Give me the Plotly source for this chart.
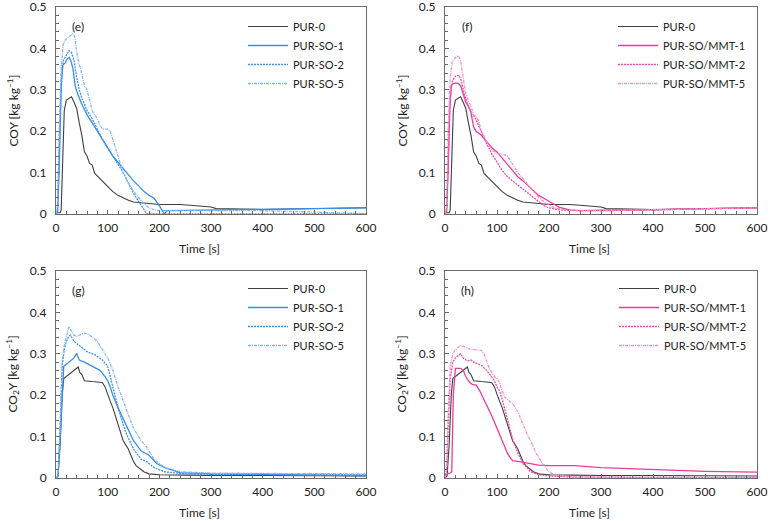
import plotly.graph_objects as go

# ---------------- data ----------------
# COY, PUR-0 (panels e, f)
coy_pur0_t = [0, 8, 10, 13, 16, 20, 25, 30, 35, 40, 45, 50, 55, 60, 65, 70, 75, 85, 100, 110, 120, 130, 140, 150,
              165, 180, 200, 220, 240, 260, 280, 300, 310, 350, 400, 450, 500, 550, 600]
coy_pur0_y = [0.003, 0.003, 0.01, 0.15, 0.25, 0.275, 0.28, 0.283, 0.27, 0.255, 0.22, 0.19, 0.15, 0.14, 0.122, 0.118,
              0.098, 0.085, 0.065, 0.054, 0.045, 0.038, 0.033, 0.029, 0.027, 0.025, 0.023, 0.023, 0.023, 0.021,
              0.019, 0.017, 0.013, 0.012, 0.011, 0.012, 0.013, 0.014, 0.015]

# COY, PUR-SO series (panel e)
coy_so1_t = [0, 3, 6, 10, 13, 18, 22, 26, 30, 33, 37, 42, 50, 60, 70, 80, 90, 100, 110, 120, 130, 140, 150, 160,
             170, 180, 190, 200, 207, 210, 215, 300, 400, 500, 600]
coy_so1_y = [0, 0.005, 0.1, 0.3, 0.36, 0.365, 0.375, 0.378, 0.365, 0.35, 0.31, 0.29, 0.265, 0.24, 0.22, 0.2, 0.18,
             0.16, 0.14, 0.125, 0.11, 0.095, 0.08, 0.068, 0.055, 0.045, 0.038, 0.02, 0.005, 0.0, 0.008, 0.009,
             0.01, 0.013, 0.015]
coy_so2_t = [0, 3, 6, 10, 14, 20, 25, 30, 35, 40, 45, 50, 60, 70, 80, 90, 100, 110, 120, 130, 140, 150, 160, 170,
             175, 180, 600]
coy_so2_y = [0, 0.01, 0.15, 0.32, 0.37, 0.385, 0.395, 0.39, 0.37, 0.33, 0.3, 0.28, 0.25, 0.23, 0.205, 0.18, 0.16,
             0.14, 0.12, 0.1, 0.075, 0.05, 0.03, 0.01, 0.002, 0.0, 0.0]
coy_so5_t = [0, 3, 6, 10, 14, 18, 22, 27, 32, 36, 40, 45, 50, 55, 60, 65, 70, 75, 80, 85, 90, 95, 100, 105, 110,
             115, 120, 130, 140, 150, 160, 170, 180, 190, 200, 210, 400, 600]
coy_so5_y = [0, 0.02, 0.2, 0.35, 0.41, 0.42, 0.425, 0.43, 0.435, 0.43, 0.39, 0.36, 0.34, 0.31, 0.3, 0.275, 0.25,
             0.24, 0.23, 0.215, 0.205, 0.205, 0.205, 0.2, 0.18, 0.16, 0.14, 0.1, 0.075, 0.055, 0.04, 0.025, 0.015,
             0.01, 0.008, 0.008, 0.008, 0.001]

# COY, PUR-SO/MMT series (panel f)
coy_mmt1_t = [0, 3, 6, 9, 12, 16, 20, 25, 30, 35, 40, 45, 50, 55, 60, 70, 80, 90, 100, 110, 120, 130, 140, 150,
              160, 170, 180, 190, 200, 210, 220, 240, 260, 300, 400, 500, 600]
coy_mmt1_y = [0, 0.005, 0.1, 0.25, 0.31, 0.315, 0.316, 0.316, 0.31, 0.29, 0.27, 0.26, 0.245, 0.21, 0.2, 0.19,
              0.175, 0.16, 0.15, 0.135, 0.12, 0.105, 0.09, 0.08, 0.068, 0.055, 0.045, 0.038, 0.03, 0.022, 0.016,
              0.01, 0.008, 0.009, 0.01, 0.013, 0.015]
coy_mmt2_t = [0, 3, 6, 10, 14, 18, 22, 27, 32, 37, 42, 47, 52, 57, 62, 70, 80, 90, 100, 110, 120, 130, 140, 150,
              160, 170, 180, 190, 200, 220, 250, 300, 400, 500, 600]
coy_mmt2_y = [0, 0.01, 0.12, 0.28, 0.32, 0.33, 0.335, 0.335, 0.32, 0.29, 0.27, 0.255, 0.24, 0.235, 0.22, 0.2,
              0.17, 0.145, 0.125, 0.105, 0.09, 0.08, 0.07, 0.06, 0.05, 0.04, 0.03, 0.02, 0.015, 0.01, 0.008,
              0.008, 0.01, 0.013, 0.015]
coy_mmt5_t = [0, 3, 6, 10, 14, 18, 22, 26, 30, 35, 40, 45, 50, 55, 60, 65, 70, 80, 90, 100, 110, 120, 130, 140,
              150, 160, 170, 180, 190, 200, 210, 230, 260, 300, 400, 500, 600]
coy_mmt5_y = [0, 0.02, 0.2, 0.33, 0.37, 0.375, 0.38, 0.382, 0.37, 0.33, 0.29, 0.275, 0.26, 0.24, 0.235, 0.225,
              0.2, 0.175, 0.155, 0.145, 0.145, 0.14, 0.12, 0.1, 0.085, 0.07, 0.055, 0.04, 0.03, 0.022, 0.015,
              0.01, 0.008, 0.008, 0.01, 0.013, 0.015]

# CO2Y, PUR-0 (panels g, h)
co2_pur0_t = [0, 4, 8, 12, 15, 20, 25, 30, 35, 40, 43, 46, 50, 55, 60, 70, 80, 90, 95, 100, 105, 110, 115, 120,
              125, 130, 135, 140, 145, 150, 155, 160, 170, 180, 190, 200, 250, 300, 400, 500, 600]
co2_pur0_y = [0, 0.005, 0.08, 0.2, 0.24, 0.245, 0.25, 0.255, 0.26, 0.265, 0.268, 0.255, 0.25, 0.235, 0.234,
              0.233, 0.232, 0.23, 0.22, 0.2, 0.185, 0.17, 0.15, 0.13, 0.11, 0.09, 0.08, 0.07, 0.055, 0.04, 0.03,
              0.025, 0.015, 0.01, 0.009, 0.008, 0.007, 0.006, 0.006, 0.005, 0.005]

# CO2Y, PUR-SO series (panel g)
co2_so1_t = [0, 4, 8, 12, 15, 20, 25, 30, 35, 40, 45, 55, 70, 85, 95, 100, 105, 110, 120, 135, 150, 165, 180,
             195, 210, 240, 300, 400, 500, 600]
co2_so1_y = [0, 0.005, 0.1, 0.22, 0.27, 0.275, 0.28, 0.285, 0.29, 0.301, 0.285, 0.28, 0.27, 0.26, 0.245, 0.235,
             0.22, 0.2, 0.17, 0.13, 0.09, 0.065, 0.055, 0.035, 0.025, 0.013, 0.01, 0.009, 0.007, 0.005]
co2_so2_t = [0, 4, 8, 12, 16, 20, 24, 28, 35, 45, 60, 75, 90, 100, 110, 120, 135, 150, 165, 175, 190, 210, 250,
             300, 400, 500, 600]
co2_so2_y = [0, 0.005, 0.12, 0.27, 0.31, 0.33, 0.34, 0.345, 0.33, 0.32, 0.305, 0.298, 0.285, 0.27, 0.22, 0.17,
             0.11, 0.07, 0.045, 0.04, 0.025, 0.015, 0.01, 0.009, 0.009, 0.008, 0.008]
co2_so5_t = [0, 4, 8, 12, 16, 20, 25, 30, 35, 40, 47, 55, 65, 80, 90, 100, 110, 120, 135, 150, 165, 175, 190,
             210, 240, 300, 400, 500, 600]
co2_so5_y = [0, 0.005, 0.13, 0.28, 0.32, 0.34, 0.366, 0.355, 0.345, 0.342, 0.345, 0.35, 0.345, 0.33, 0.31, 0.29,
             0.26, 0.22, 0.17, 0.12, 0.09, 0.075, 0.045, 0.025, 0.015, 0.012, 0.011, 0.01, 0.01]

# CO2Y, PUR-SO/MMT series (panel h)
co2_mmt1_t = [0, 5, 10, 13, 16, 20, 25, 30, 35, 40, 45, 50, 55, 60, 67, 75, 82, 90, 100, 110, 120, 125, 130, 140,
              160, 180, 200, 250, 300, 400, 500, 600]
co2_mmt1_y = [0.005, 0.01, 0.012, 0.015, 0.2, 0.265, 0.265, 0.265, 0.26, 0.245, 0.235, 0.228, 0.225, 0.225,
              0.21, 0.19, 0.172, 0.15, 0.12, 0.09, 0.06, 0.05, 0.042, 0.04, 0.035, 0.031, 0.03, 0.03, 0.025,
              0.02, 0.016, 0.014]
co2_mmt2_t = [0, 3, 6, 10, 15, 20, 25, 30, 35, 40, 45, 50, 55, 60, 65, 70, 80, 90, 95, 100, 105, 110, 120, 130,
              140, 150, 165, 180, 200, 250, 300, 400, 500, 600]
co2_mmt2_y = [0, 0.02, 0.12, 0.24, 0.28, 0.29, 0.295, 0.3, 0.29, 0.285, 0.283, 0.285, 0.28, 0.277, 0.275, 0.272,
              0.26, 0.245, 0.235, 0.22, 0.21, 0.19, 0.14, 0.095, 0.06, 0.035, 0.015, 0.008, 0.005, 0.002, 0.002,
              0.001, 0.001, 0.001]
co2_mmt5_t = [0, 3, 6, 10, 15, 20, 25, 30, 35, 40, 50, 60, 70, 75, 80, 85, 90, 95, 100, 105, 110, 115, 120, 125,
              130, 135, 140, 145, 150, 155, 160, 165, 170, 175, 180, 185, 190, 200, 210, 220, 250, 300, 400, 500,
              600]
co2_mmt5_y = [0, 0.02, 0.15, 0.27, 0.3, 0.31, 0.315, 0.32, 0.318, 0.315, 0.31, 0.31, 0.308, 0.3, 0.28, 0.265,
              0.255, 0.245, 0.24, 0.23, 0.21, 0.195, 0.19, 0.185, 0.18, 0.17, 0.16, 0.145, 0.13, 0.115, 0.1, 0.09,
              0.075, 0.06, 0.05, 0.04, 0.03, 0.015, 0.008, 0.005, 0.003, 0.002, 0.002, 0.002, 0.002]

names_so = ["PUR-0", "PUR-SO-1", "PUR-SO-2", "PUR-SO-5"]
names_mmt = ["PUR-0", "PUR-SO/MMT-1", "PUR-SO/MMT-2", "PUR-SO/MMT-5"]
panel_labels = ["(e)", "(f)", "(g)", "(h)"]
y_titles = ["COY [kg kg<sup>−1</sup>]", "COY [kg kg<sup>−1</sup>]",
            "CO<sub>2</sub>Y [kg kg<sup>−1</sup>]", "CO<sub>2</sub>Y [kg kg<sup>−1</sup>]"]
x_title = "Time [s]"

# ---------------- styling ----------------
W, H = 769, 521
FONT = "Lato, 'Open Sans', sans-serif"
TXT = "#222222"
black = "#3f3f3f"
blues = ["#3a8ee6", "#3f90ee", "#7fb6f5"]
pinks = ["#ef3a9c", "#f24aa8", "#f590c8"]
dashes = ["solid", "2px,1px", "3px,1px,1px,1px"]
widths = [1.3, 1.3, 1.3]

# pixel boxes of the four plot areas: (left, right, top, bottom)
boxes = [(56, 366, 7, 214), (445, 757, 7, 214), (56, 366, 271, 478), (445, 757, 271, 478)]


def px(x):
    return x / W


def py(y):
    return 1 - y / H


fig = go.Figure()

panels = [
    [(coy_pur0_t, coy_pur0_y), (coy_so1_t, coy_so1_y), (coy_so2_t, coy_so2_y), (coy_so5_t, coy_so5_y)],
    [(coy_pur0_t, coy_pur0_y), (coy_mmt1_t, coy_mmt1_y), (coy_mmt2_t, coy_mmt2_y), (coy_mmt5_t, coy_mmt5_y)],
    [(co2_pur0_t, co2_pur0_y), (co2_so1_t, co2_so1_y), (co2_so2_t, co2_so2_y), (co2_so5_t, co2_so5_y)],
    [(co2_pur0_t, co2_pur0_y), (co2_mmt1_t, co2_mmt1_y), (co2_mmt2_t, co2_mmt2_y), (co2_mmt5_t, co2_mmt5_y)],
]

legend_keys = ["legend", "legend2", "legend3", "legend4"]

for i, series in enumerate(panels):
    names = names_so if i % 2 == 0 else names_mmt
    cols = blues if i % 2 == 0 else pinks
    suffix = "" if i == 0 else str(i + 1)
    for j, (t, y) in enumerate(series):
        color = black if j == 0 else cols[j - 1]
        dash = "solid" if j == 0 else dashes[j - 1]
        width = 1.1 if j == 0 else widths[j - 1]
        fig.add_trace(go.Scatter(
            x=t, y=y, mode="lines", name=names[j],
            line=dict(color=color, width=width, dash=dash),
            xaxis="x" + suffix, yaxis="y" + suffix, legend=legend_keys[i],
        ))

axis_common = dict(showline=True, mirror=True, linecolor="#6b6b6b", linewidth=1, automargin=False,
                   ticks="inside", ticklen=4, tickcolor="#6b6b6b", showgrid=False, zeroline=False,
                   ticklabeloverflow="allow",
                   tickfont=dict(family=FONT, size=12, color=TXT))

layout = dict(template="none", width=W, height=H, margin=dict(l=0, r=0, t=0, b=0, pad=0, autoexpand=False),
              paper_bgcolor="white", plot_bgcolor="white", showlegend=True,
              font=dict(family=FONT, size=12, color=TXT))

legend_pos = [(243, 12), (613, 12), (243, 274), (614, 274)]

annotations = []
for i, (l, r, t, b) in enumerate(boxes):
    suffix = "" if i == 0 else str(i + 1)
    layout["xaxis" + suffix] = dict(
        domain=[px(l), px(r)], range=[0, 600], anchor="y" + suffix, dtick=100,
        minor=dict(ticks="inside", dtick=20, ticklen=3, tickcolor="#6b6b6b"),
        ticklabelstandoff=3, **axis_common)
    layout["yaxis" + suffix] = dict(
        domain=[py(b), py(t)], range=[0, 0.5], anchor="x" + suffix, dtick=0.1,
        tickformat="~g", minor=dict(ticks="inside", dtick=0.02, ticklen=3, tickcolor="#6b6b6b"),
        ticklabelstandoff=6, **axis_common)
    lx, ly = legend_pos[i]
    layout[legend_keys[i]] = dict(
        x=px(lx), y=py(ly), xanchor="left", yanchor="top", bgcolor="rgba(0,0,0,0)",
        font=dict(family=FONT, size=11, color=TXT), itemwidth=40, tracegroupgap=0,
        itemclick=False, borderwidth=0)
    # panel label
    annotations.append(dict(text=panel_labels[i], x=px(l + 22), y=py(t + 19), xref="paper", yref="paper",
                            showarrow=False, font=dict(family=FONT, size=12, color=TXT),
                            xanchor="center", yanchor="middle"))
    # y title
    annotations.append(dict(text=y_titles[i], x=px(l - 44), y=py((t + b) / 2), xref="paper", yref="paper",
                            showarrow=False, textangle=-90, font=dict(family=FONT, size=12, color=TXT),
                            xanchor="center", yanchor="middle"))
    # x title
    annotations.append(dict(text=x_title, x=px((l + r) / 2 - 12), y=py(b + 34), xref="paper", yref="paper",
                            showarrow=False, font=dict(family=FONT, size=12, color=TXT),
                            xanchor="center", yanchor="middle"))

layout["annotations"] = annotations
fig.update_layout(**layout)
fig.write_html("out.html", config={"displayModeBar": False},
               post_script="document.body.style.margin='0';document.body.style.overflow='hidden';")
